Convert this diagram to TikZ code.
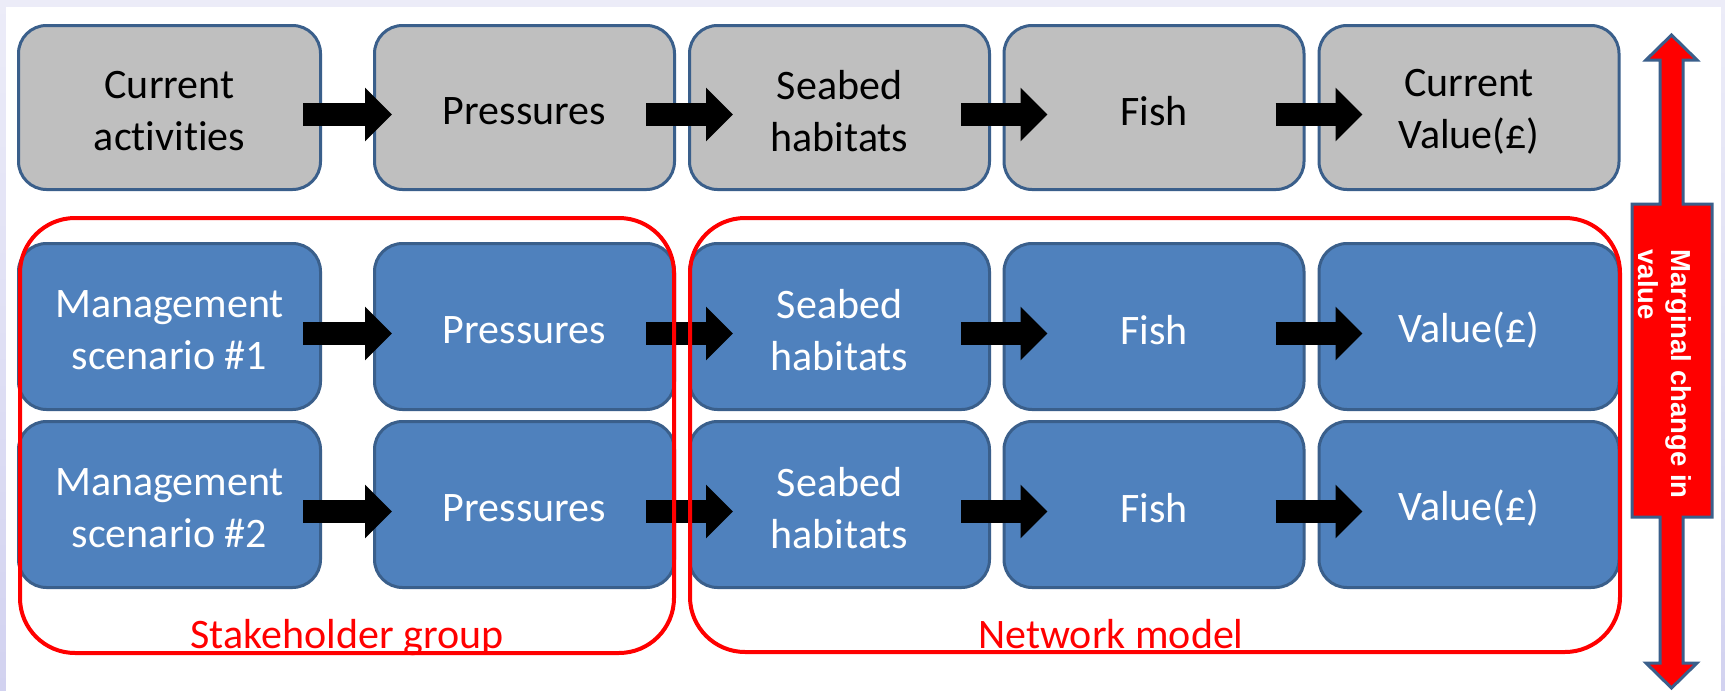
\documentclass[tikz,border=0pt]{standalone}
\usepackage{fontspec}
\setmainfont{Carlito}[Ligatures={NoCommon,NoContextual}]
\newfontfamily\sidefont{Liberation Sans}
\usetikzlibrary{arrows.meta,calc}
\definecolor{boxgray}{HTML}{BFBFBF}
\definecolor{boxblue}{HTML}{4F81BD}
\definecolor{edgeblue}{HTML}{3A5F8B}
\definecolor{lavtop}{HTML}{ECECF8}
\definecolor{lavbot}{HTML}{D2D2F0}
\definecolor{pptred}{HTML}{FF0000}
\newcommand\mkcard[6]{%
  \node[#1,#2] (#3) at (#4) {};
  \node[cardtext, text=#5] (#3t) at ($(#3.center)+(0,4)$) {#6};
}
\begin{document}
\begin{tikzpicture}[x=1pt,y=-1pt,
  card/.style={rectangle, rounded corners=28pt, draw=edgeblue, line width=3pt,
    inner sep=0pt},
  cardtext/.style={inner sep=0pt, align=center, font=\fontsize{42}{52}\selectfont},
  graycard/.style={card, fill=boxgray},
  bluecard/.style={card, fill=boxblue},
  w1h1/.style={minimum width=302pt, minimum height=164pt},
  wnh1/.style={minimum width=300pt, minimum height=164pt},
  w1hn/.style={minimum width=302pt, minimum height=166pt},
  wnhn/.style={minimum width=300pt, minimum height=166pt},
  blk/.style={draw=black, line width=23pt, line cap=butt,
    -{Triangle[width=52pt,length=27pt]}},
  grp/.style={rectangle, draw=pptred, line width=4pt, rounded corners=55pt, inner sep=0pt},
  grplabel/.style={text=pptred, font=\fontsize{42}{50}\selectfont, anchor=base},
]
\useasboundingbox (0,0) rectangle (1725,691);
\shade[top color=lavtop, bottom color=lavbot] (0,0) rectangle (1725,691);
\fill[white] (6,7) rectangle (1721,691);

% row 1
\mkcard{graycard}{w1h1}{a1}{169.5,107.5}{black}{Current\\activities}
\mkcard{graycard}{wnh1}{a2}{524.5,107.5}{black}{Pressures}
\mkcard{graycard}{wnh1}{a3}{839.5,107.5}{black}{Seabed\\habitats}
\mkcard{graycard}{wnh1}{a4}{1154,107.5}{black}{Fish}
\mkcard{graycard}{wnh1}{a5}{1469,107.5}{black}{Current\\Value(£)}
% row 2
\mkcard{bluecard}{w1hn}{b1}{169.5,326.5}{white}{Management\\scenario \#1}
\mkcard{bluecard}{wnhn}{b2}{524.5,326.5}{white}{Pressures}
\mkcard{bluecard}{wnhn}{b3}{839.5,326.5}{white}{Seabed\\habitats}
\mkcard{bluecard}{wnhn}{b4}{1154,326.5}{white}{Fish}
\mkcard{bluecard}{wnhn}{b5}{1469,326.5}{white}{Value(£)}
% row 3
\mkcard{bluecard}{w1hn}{c1}{169.5,504.5}{white}{Management\\scenario \#2}
\mkcard{bluecard}{wnhn}{c2}{524.5,504.5}{white}{Pressures}
\mkcard{bluecard}{wnhn}{c3}{839.5,504.5}{white}{Seabed\\habitats}
\mkcard{bluecard}{wnhn}{c4}{1154,504.5}{white}{Fish}
\mkcard{bluecard}{wnhn}{c5}{1469,504.5}{white}{Value(£)}

% block arrows
\foreach \r in {a,b,c}{
  \draw[blk] ($(\r1.east)+(-19,7)$) -- ($(\r2.west)+(19,7)$);
  \draw[blk] ($(\r2.east)+(-30,7)$) -- ($(\r3.west)+(45,7)$);
  \draw[blk] ($(\r3.east)+(-30,7)$) -- ($(\r4.west)+(45,7)$);
  \draw[blk] ($(\r4.east)+(-30,7)$) -- ($(\r5.west)+(45,7)$);
}

% groups
\node[grp, minimum width=654pt, minimum height=435pt] (sg) at (347,435.5) {};
\node[grp, minimum width=930pt, minimum height=434pt] (nm) at (1155,435) {};
\node[grplabel] (sgl) at (347,648) {Stakeholder group};
\node[grplabel] (nml) at (1111,648) {Network model};

% up-down arrow callout
\filldraw[fill=pptred, draw=edgeblue, line width=3pt, line join=miter]
  (1671.5,35) -- (1697,60) -- (1683,60) -- (1683,204) -- (1712,204) -- (1712,517)
  -- (1683,517) -- (1683,663) -- (1697,663) -- (1671.5,688) -- (1646,663)
  -- (1660,663) -- (1660,517) -- (1632,517) -- (1632,204) -- (1660,204)
  -- (1660,60) -- (1646,60) -- cycle;
\node[rotate=-90, align=left, text=white, inner sep=0pt,
  font=\sidefont\bfseries\fontsize{27.5}{33}\selectfont] (mcv) at (1665,374)
  {Marginal change in\\value};
\end{tikzpicture}
\end{document}
